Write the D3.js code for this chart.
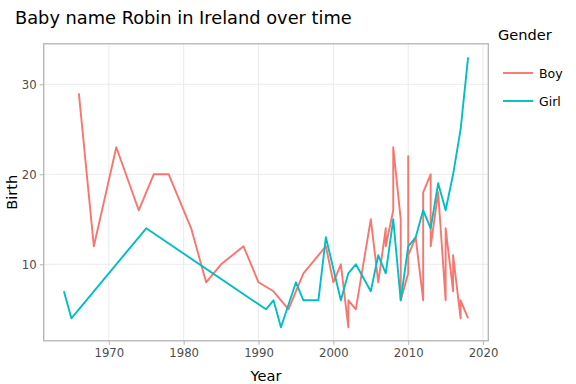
<!DOCTYPE html>
<html><head><meta charset="utf-8">
<script src="https://cdn.jsdelivr.net/npm/d3@7"></script>
<style>body{margin:0;background:#fff}svg{display:block;font-family:"DejaVu Sans",Verdana,sans-serif}</style>
</head><body><svg id="c" width="576" height="384"></svg>
<script>
const boyYears = [1966,1968,1971,1974,1976,1978,1981,1983,1985,1988,1990,1992,1994,1996,1999,2000,2001,2002,2002,2003,2005,2006,2007,2007,2008,2008,2009,2009,2010,2010,2010,2011,2012,2012,2013,2013,2014,2015,2015,2016,2016,2017,2017,2018];
const boyValues = [29,12,23,16,20,20,14,8,10,12,8,7,5,9,12,8,10,3,6,5,15,8,14,12,16,23,15,6,9,22,11,13,6,18,20,12,18,6,14,7,11,4,6,4];
const girlYears = [1964,1965,1975,1991,1992,1993,1995,1996,1998,1999,2001,2002,2003,2005,2006,2007,2008,2009,2010,2011,2012,2013,2014,2015,2016,2017,2018];
const girlValues = [7,4,14,5,6,3,8,6,6,13,6,9,10,7,11,9,15,6,12,13,16,14,19,16,20,25,33];
const xTicks = [1970,1980,1990,2000,2010,2020];
const yTicks = [10,20,30];
const seriesNames = ["Boy","Girl"];
const colors = ["#F8766D","#00BFC4"];

const svg = d3.select("#c");
const L = 43.7, R = 488.3, T = 43.8, B = 340.8;
const x = d3.scaleLinear().domain([1961.3, 2020.7]).range([L, R]);
const y = d3.scaleLinear().domain([1.5, 34.5]).range([B, T]);

// grid
const g = svg.append("g");
g.selectAll(".gx").data(xTicks).join("line")
  .attr("x1", d => x(d)).attr("x2", d => x(d)).attr("y1", T).attr("y2", B)
  .attr("stroke", "#ebebeb").attr("stroke-width", 1);
g.selectAll(".gy").data(yTicks).join("line")
  .attr("y1", d => y(d)).attr("y2", d => y(d)).attr("x1", L).attr("x2", R)
  .attr("stroke", "#ebebeb").attr("stroke-width", 1);

// axes
const xAxis = d3.axisBottom(x).tickValues(xTicks).tickSize(4).tickPadding(4).tickFormat(d3.format("d"));
const yAxis = d3.axisLeft(y).tickValues(yTicks).tickSize(4).tickPadding(3);
const ax = svg.append("g").attr("transform", `translate(0,${B})`).call(xAxis);
const ay = svg.append("g").attr("transform", `translate(${L},0)`).call(yAxis);
[ax, ay].forEach(a => {
  a.select(".domain").remove();
  a.selectAll(".tick line").attr("stroke", "#b3b3b3").attr("stroke-width", 1);
  a.selectAll(".tick text").attr("fill", "#4d4d4d").style("font-size", "11.7px").style("font-family", "DejaVu Sans");
});

// lines
const line = d3.line().x(d => x(d[0])).y(d => y(d[1]));
const boy = boyYears.map((yr, i) => [yr, boyValues[i]]);
const girl = girlYears.map((yr, i) => [yr, girlValues[i]]);
[boy, girl].forEach((data, i) => {
  svg.append("path").datum(data).attr("d", line)
    .attr("fill", "none").attr("stroke", colors[i]).attr("stroke-width", 1.9)
    .attr("stroke-linejoin", "round");
});

// border
svg.append("rect").attr("x", L).attr("y", T).attr("width", R - L).attr("height", B - T)
  .attr("fill", "none").attr("stroke", "#b3b3b3").attr("stroke-width", 1.3);

// titles
svg.append("text").attr("x", 15).attr("y", 24).text("Baby name Robin in Ireland over time")
  .style("font-size", "17.8px").attr("fill", "#000");
svg.append("text").attr("x", (L + R) / 2).attr("y", 381).attr("text-anchor", "middle")
  .text("Year").style("font-size", "14.6px").attr("fill", "#000");
svg.append("text").attr("transform", `translate(17,${(T + B) / 2}) rotate(-90)`).attr("text-anchor", "middle")
  .text("Birth").style("font-size", "14.6px").attr("fill", "#000");

// legend
svg.append("text").attr("x", 498).attr("y", 40).text("Gender").style("font-size", "14.6px").attr("fill", "#000");
seriesNames.forEach((n, i) => {
  const yy = 73 + i * 28;
  svg.append("line").attr("x1", 503).attr("x2", 533).attr("y1", yy).attr("y2", yy)
    .attr("stroke", colors[i]).attr("stroke-width", 1.9);
  svg.append("text").attr("x", 539).attr("y", yy + 4.5).text(n).style("font-size", "12.5px").attr("fill", "#000");
});
</script></body></html>
